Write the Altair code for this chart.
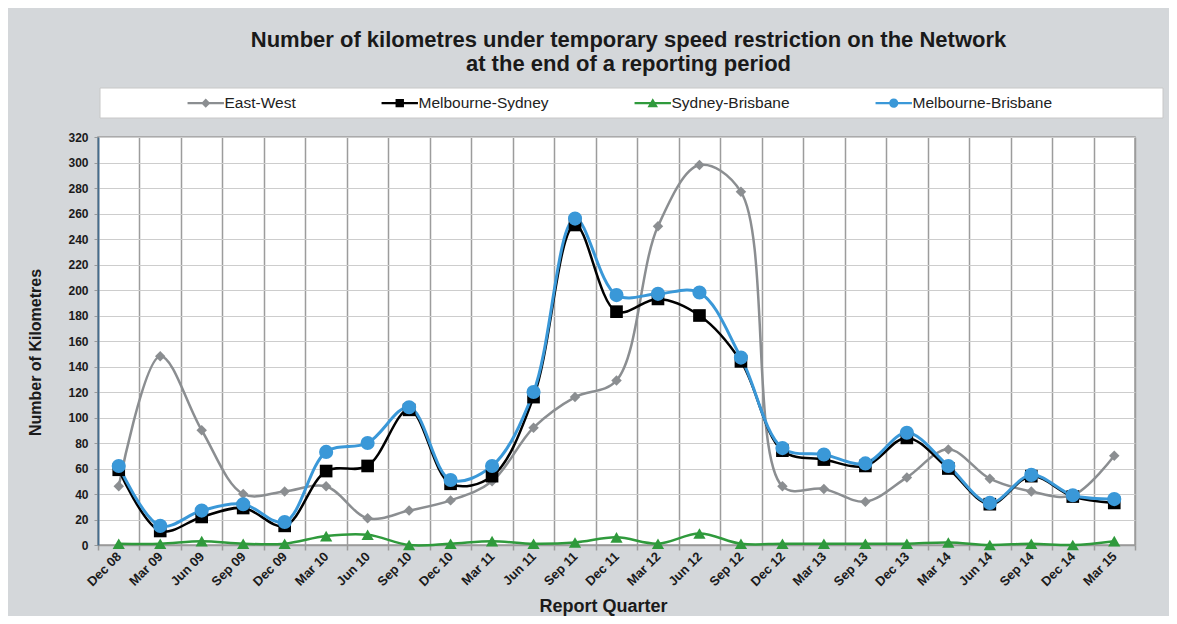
import altair as alt
import pandas as pd

quarters = ["Dec 08", "Mar 09", "Jun 09", "Sep 09", "Dec 09", "Mar 10", "Jun 10", "Sep 10",
            "Dec 10", "Mar 11", "Jun 11", "Sep 11", "Dec 11", "Mar 12", "Jun 12", "Sep 12",
            "Dec 12", "Mar 13", "Sep 13", "Dec 13", "Mar 14", "Jun 14", "Sep 14", "Dec 14", "Mar 15"]

east_west = [46, 148, 90, 40, 42, 46, 21, 27, 35, 50, 92, 116, 129, 250, 298, 277,
             46, 44, 34, 53, 75, 52, 42, 39, 70]
melb_syd = [59, 11, 22, 29, 15, 58, 62, 106, 48, 54, 116, 251, 183, 193, 180, 144,
            74, 67, 62, 84, 60, 32, 54, 38, 33]
syd_bris = [1, 1, 3, 1, 1, 7, 8, 0, 1, 3, 1, 2, 6, 1, 9, 1,
            1, 1, 1, 1, 2, 0, 1, 0, 3]
melb_bris = [62, 15, 27, 32, 18, 73, 80, 108, 51, 62, 120, 256, 196, 197, 198, 147,
             76, 71, 64, 88, 62, 33, 55, 39, 36]

series_names = ["East-West", "Melbourne-Sydney", "Sydney-Brisbane", "Melbourne-Brisbane"]
series_values = [east_west, melb_syd, syd_bris, melb_bris]
colors = ["#8b8e91", "#000000", "#2f9a3c", "#3a98d8"]
shapes = ["diamond", "square", "triangle-up", "circle"]
point_sizes = [110, 160, 150, 200]
line_widths = [2.5, 2.5, 2.5, 3]

legend_paths = [
    "M-2.6,-0.15H2.6V0.15H-2.6Z M0,-0.65L0.65,0L0,0.65L-0.65,0Z",
    "M-2.6,-0.15H2.6V0.15H-2.6Z M-0.6,-0.6H0.6V0.6H-0.6Z",
    "M-2.6,-0.15H2.6V0.15H-2.6Z M0,-0.7L0.75,0.6L-0.75,0.6Z",
    "M-2.6,-0.15H2.6V0.15H-2.6Z M0.65,0 A0.65,0.65 0 1,1 -0.65,0 A0.65,0.65 0 1,1 0.65,0Z",
]

rows = []
for name, vals in zip(series_names, series_values):
    for q, v in zip(quarters, vals):
        rows.append({"quarter": q, "series": name, "km": v})
df = pd.DataFrame(rows)

FONT = "Liberation Sans"

x_enc = alt.X(
    "quarter:N",
    sort=quarters,
    scale=alt.Scale(type="band", domain=quarters, paddingInner=0, paddingOuter=0),
    axis=alt.Axis(
        title="Report Quarter", titleFont=FONT, titleFontSize=18, titleFontWeight="bold",
        titleColor="#1a1a1a", titleX=505, titleY=61, titleBaseline="middle", titleAlign="center",
        labelAngle=-45, labelAlign="right", labelBaseline="middle", labelFont=FONT,
        labelFontSize=13, labelFontWeight="bold", labelColor="#1a1a1a", labelPadding=4,
        tickBand="extent", tickSize=5, tickColor="#9a9a9a", tickWidth=1.5,
        grid=True, gridColor="#9c9c9c", gridWidth=1.5,
        domainColor="#9a9a9a", domainWidth=1.5,
    ),
)
y_enc = alt.Y(
    "km:Q",
    scale=alt.Scale(domain=[0, 320], nice=False),
    axis=alt.Axis(
        title="Number of Kilometres", titleFont=FONT, titleFontSize=16, titleFontWeight="bold",
        titleColor="#1a1a1a", titleX=-63, titleY=215, titleAngle=270, titleAlign="center",
        titleBaseline="middle",
        values=list(range(0, 321, 20)), labelFont=FONT, labelFontSize=12, labelFontWeight="bold",
        labelColor="#1a1a1a", labelPadding=6, tickSize=4, tickColor="#9a9a9a",
        grid=True, gridColor="#cdcdcd", gridWidth=1.2,
        domainColor="#456d8e", domainWidth=1.8,
    ),
)

base = alt.Chart(df)
layers = []

# legend box
legend_box = alt.Chart(pd.DataFrame({"a": [0]})).mark_rect(
    fill="white", stroke="#c8c8c8", strokeWidth=1
).encode(x=alt.value(2), x2=alt.value(1065), y=alt.value(-49), y2=alt.value(-19))
layers.append(legend_box)

draw_order = [0, 2, 1, 3]
for i in draw_order:
    name = series_names[i]
    sub = base.transform_filter(alt.datum.series == name)
    layers.append(
        sub.mark_line(color=colors[i], strokeWidth=line_widths[i], interpolate="catmull-rom")
        .encode(x=x_enc, y=y_enc)
    )
for i in draw_order:
    name = series_names[i]
    sub = base.transform_filter(alt.datum.series == name)
    layers.append(
        sub.mark_point(filled=True, opacity=1, color=colors[i], shape=shapes[i], size=point_sizes[i])
        .encode(x=x_enc, y=y_enc)
    )

leg = dict(
    title=None, orient="none", legendX=100, legendY=-42, direction="horizontal", columns=4,
    columnPadding=85, labelFont=FONT, labelFontSize=15.5, labelColor="#222222", labelOffset=11,
    symbolSize=196, symbolStrokeWidth=0, padding=0,
)
legend_layer = base.transform_filter("false").mark_point(filled=True, opacity=1, size=196).encode(
    x=x_enc,
    y=y_enc,
    color=alt.Color("series:N", scale=alt.Scale(domain=series_names, range=colors), legend=alt.Legend(**leg)),
    shape=alt.Shape("series:N", scale=alt.Scale(domain=series_names, range=legend_paths), legend=alt.Legend(**leg)),
)
layers.append(legend_layer)

chart = alt.layer(*layers).properties(
    width=1037,
    height=408,
    padding={"left": 90, "top": 129, "right": 34, "bottom": 71},
    autosize=alt.AutoSizeParams(type="none"),
    title=alt.TitleParams(
        text=["Number of kilometres under temporary speed restriction on the Network",
              "at the end of a reporting period"],
        font=FONT, fontSize=22, fontWeight="bold", color="#1a1a1a",
        anchor="middle", frame="group", offset=16, baseline="alphabetic", lineHeight=24,
        dx=12, dy=21,
    ),
).configure(
    background="#d4d7da",
).configure_view(
    fill="white", stroke="#9c9c9c", strokeWidth=1.5,
)

chart.save("out.html", embed_options={"renderer": "svg", "actions": False})
